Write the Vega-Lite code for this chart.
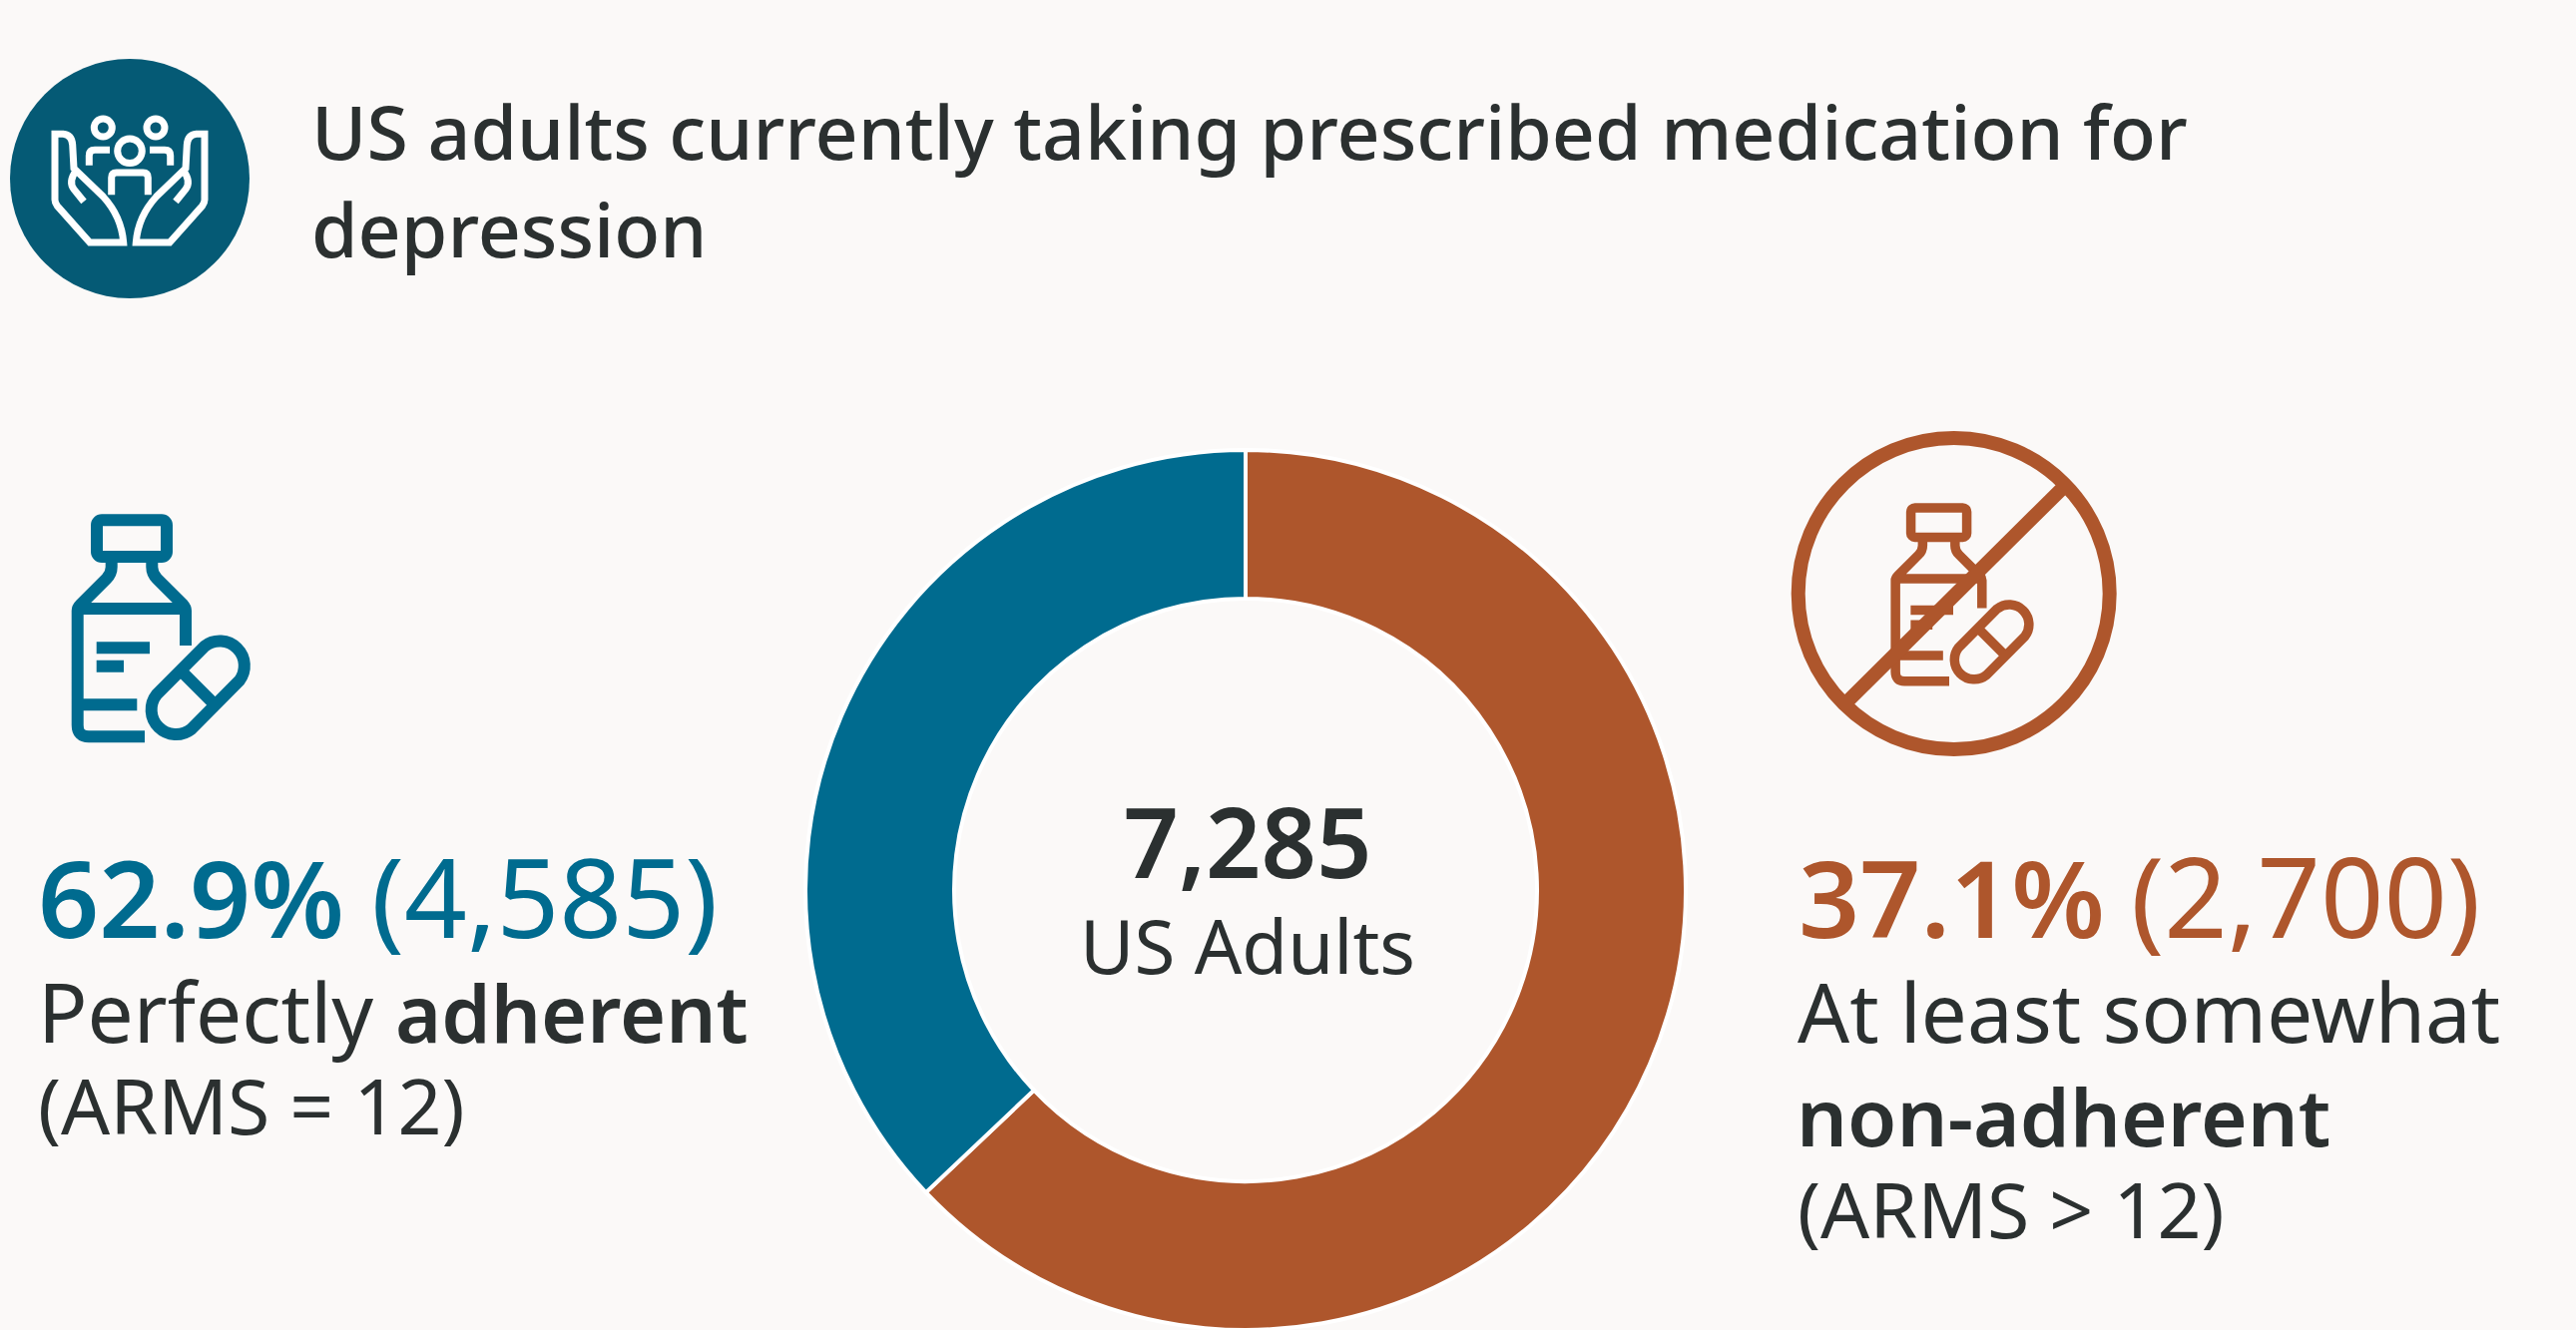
{"$schema":"https://vega.github.io/schema/vega-lite/v6.json","width":2581,"height":1333,"padding":0,"autosize":"none","background":"#FBF9F8","view":{"stroke":null,"fill":"#FBF9F8"},"config":{"view":{"stroke":null},"text":{"font":"Noto Sans","align":"left","baseline":"alphabetic","color":"#2B3030"}},"title":{"text":["US adults currently taking prescribed medication for","depression"],"anchor":"start","frame":"group","orient":"top","baseline":"top","offset":0,"dx":312,"dy":274,"font":"Noto Sans","fontWeight":500,"fontSize":75.2,"lineHeight":98,"color":"#2B3030"},
"layer":[
{"data":{"values":[{"segment":"Arc 1","count":4585,"rank":1},{"segment":"Arc 2","count":2700,"rank":2}]},"mark":{"type":"arc","outerRadius":441,"innerRadius":292,"stroke":"#FFFFFF","strokeWidth":4},"encoding":{"x":{"datum":1248,"type":"quantitative","scale":{"domain":[0,2581],"range":[0,2581],"nice":false},"axis":null},"y":{"datum":892,"type":"quantitative","scale":{"domain":[0,1333],"range":[0,1333],"nice":false},"axis":null},"theta":{"field":"count","type":"quantitative","stack":true},"order":{"field":"rank","type":"ordinal"},"color":{"field":"segment","type":"nominal","scale":{"domain":["Arc 1","Arc 2"],"range":["#AE562C","#006B8F"]},"legend":null}}},
{"data":{"values":[{"icon":"circle"}]},"mark":{"type":"point","shape":"circle","size":57600,"filled":true,"color":"#055A75","opacity":1,"strokeWidth":0},"encoding":{"x":{"datum":130,"type":"quantitative","axis":null},"y":{"datum":179,"type":"quantitative","axis":null}}},
{"data":{"values":[{"icon":"hands"}]},"mark":{"type":"point","shape":"M-6.3 64H-40L-72.7 27.3Q-75 24 -75 21.3V-44.7H-66.7Q-58 -44 -57.3 -33.7L-56 -10.3L-26.7 18Q-8.3 38 -6.3 64ZM-46 23L-56 10.7Q-61.7 3 -54 -7.7M6.3 64H40L72.7 27.3Q75 24 75 21.3V-44.7H66.7Q58 -44 57.3 -33.7L56 -10.3L26.7 18Q8.3 38 6.3 64ZM46 23L56 10.7Q61.7 3 54 -7.7M-12.3 -27.7A12.3 12.3 0 1 1 12.3 -27.7A12.3 12.3 0 1 1 -12.3 -27.7ZM-35.7 -51A9 9 0 1 1 -17.7 -51A9 9 0 1 1 -35.7 -51ZM17 -51A9 9 0 1 1 35 -51A9 9 0 1 1 17 -51ZM-40.7 -13.3V-23Q-40.7 -28.7 -35 -28.7H-20M40.7 -13.3V-23Q40.7 -28.7 35 -28.7H20M-18.3 16.3V-1Q-18.3 -6 -13.3 -6H13.3Q18.3 -6 18.3 -1V16.3","size":4,"filled":false,"stroke":"#FFFFFF","strokeWidth":7,"opacity":1},"encoding":{"x":{"datum":130,"type":"quantitative","axis":null},"y":{"datum":179,"type":"quantitative","axis":null}}},
{"data":{"values":[{"icon":"bottle"}]},"mark":{"type":"point","shape":"M52 21.3H112a5 5 0 0 1 5 5V53a5 5 0 0 1-5 5H52a5 5 0 0 1-5-5V26.3a5 5 0 0 1 5-5ZM61.7 58V68.3Q61.7 75 56.7 80L30.7 106Q27.7 109 27.7 112V226.7Q27.7 238.3 39 238.3H95M102.3 58V68.3Q102.3 75 107.3 80L133.3 106Q136 109 136 112V147M27.7 110H136M46.7 149.3H100M46.7 167.7H74M27.7 206.3H87.3M107 196L155 147.7A24.7 24.7 0 0 1 189.7 182.3L141.7 230.7A24.7 24.7 0 0 1 107 196ZM131 172L165.7 206.7","size":4,"filled":false,"stroke":"#006B8F","strokeWidth":12,"opacity":1},"encoding":{"x":{"datum":50,"type":"quantitative","axis":null},"y":{"datum":500,"type":"quantitative","axis":null}}},
{"data":{"values":[{"icon":"bottle crossed"}]},"mark":{"type":"point","shape":"M52 21.3H112a5 5 0 0 1 5 5V53a5 5 0 0 1-5 5H52a5 5 0 0 1-5-5V26.3a5 5 0 0 1 5-5ZM61.7 58V68.3Q61.7 75 56.7 80L30.7 106Q27.7 109 27.7 112V226.7Q27.7 238.3 39 238.3H95M102.3 58V68.3Q102.3 75 107.3 80L133.3 106Q136 109 136 112V147M27.7 110H136M46.7 149.3H100M46.7 167.7H74M27.7 206.3H87.3M107 196L155 147.7A24.7 24.7 0 0 1 189.7 182.3L141.7 230.7A24.7 24.7 0 0 1 107 196ZM131 172L165.7 206.7","size":2.56,"filled":false,"stroke":"#AE562C","strokeWidth":9.5,"opacity":1},"encoding":{"x":{"datum":1877,"type":"quantitative","axis":null},"y":{"datum":492,"type":"quantitative","axis":null}}},
{"data":{"values":[{"icon":"prohibition ring"}]},"mark":{"type":"point","shape":"M-156 0A156 156 0 1 1 156 0A156 156 0 1 1 -156 0ZM-106 107.4L107.3 -104.3","size":4,"filled":false,"stroke":"#AE562C","strokeWidth":14,"opacity":1},"encoding":{"x":{"datum":1957.7,"type":"quantitative","axis":null},"y":{"datum":595,"type":"quantitative","axis":null}}},
{"data":{"values":[{"label":"7,285"}]},"mark":{"type":"text","align":"center","fontSize":97,"fontWeight":600},"encoding":{"text":{"field":"label"},"x":{"datum":1250,"type":"quantitative","axis":null},"y":{"datum":880,"type":"quantitative","axis":null}}},
{"data":{"values":[{"label":"US Adults"}]},"mark":{"type":"text","align":"center","fontSize":74.5},"encoding":{"text":{"field":"label"},"x":{"datum":1250,"type":"quantitative","axis":null},"y":{"datum":976,"type":"quantitative","axis":null}}},
{"data":{"values":[{"label":"62.9%"}]},"mark":{"type":"text","fontSize":107,"fontWeight":600,"color":"#006B8F"},"encoding":{"text":{"field":"label"},"x":{"datum":38,"type":"quantitative","axis":null},"y":{"datum":940,"type":"quantitative","axis":null}}},
{"data":{"values":[{"label":"(4,585)"}]},"mark":{"type":"text","fontSize":110,"color":"#006B8F"},"encoding":{"text":{"field":"label"},"x":{"datum":372,"type":"quantitative","axis":null},"y":{"datum":940,"type":"quantitative","axis":null}}},
{"data":{"values":[{"label":"Perfectly"}]},"mark":{"type":"text","fontSize":82},"encoding":{"text":{"field":"label"},"x":{"datum":38,"type":"quantitative","axis":null},"y":{"datum":1045,"type":"quantitative","axis":null}}},
{"data":{"values":[{"label":"adherent"}]},"mark":{"type":"text","fontSize":79,"fontWeight":600},"encoding":{"text":{"field":"label"},"x":{"datum":396,"type":"quantitative","axis":null},"y":{"datum":1045,"type":"quantitative","axis":null}}},
{"data":{"values":[{"label":"(ARMS = 12)"}]},"mark":{"type":"text","fontSize":77,"fontWeight":400},"encoding":{"text":{"field":"label"},"x":{"datum":38,"type":"quantitative","axis":null},"y":{"datum":1137,"type":"quantitative","axis":null}}},
{"data":{"values":[{"label":"37.1%"}]},"mark":{"type":"text","fontSize":107,"fontWeight":600,"color":"#AE562C"},"encoding":{"text":{"field":"label"},"x":{"datum":1802,"type":"quantitative","axis":null},"y":{"datum":940,"type":"quantitative","axis":null}}},
{"data":{"values":[{"label":"(2,700)"}]},"mark":{"type":"text","fontSize":111,"color":"#AE562C"},"encoding":{"text":{"field":"label"},"x":{"datum":2135,"type":"quantitative","axis":null},"y":{"datum":940,"type":"quantitative","axis":null}}},
{"data":{"values":[{"label":"At least somewhat"}]},"mark":{"type":"text","fontSize":81.6},"encoding":{"text":{"field":"label"},"x":{"datum":1801,"type":"quantitative","axis":null},"y":{"datum":1045,"type":"quantitative","axis":null}}},
{"data":{"values":[{"label":"non-adherent"}]},"mark":{"type":"text","fontSize":80,"fontWeight":600},"encoding":{"text":{"field":"label"},"x":{"datum":1800,"type":"quantitative","axis":null},"y":{"datum":1149,"type":"quantitative","axis":null}}},
{"data":{"values":[{"label":"(ARMS > 12)"}]},"mark":{"type":"text","fontSize":77},"encoding":{"text":{"field":"label"},"x":{"datum":1801,"type":"quantitative","axis":null},"y":{"datum":1241,"type":"quantitative","axis":null}}}
]}
